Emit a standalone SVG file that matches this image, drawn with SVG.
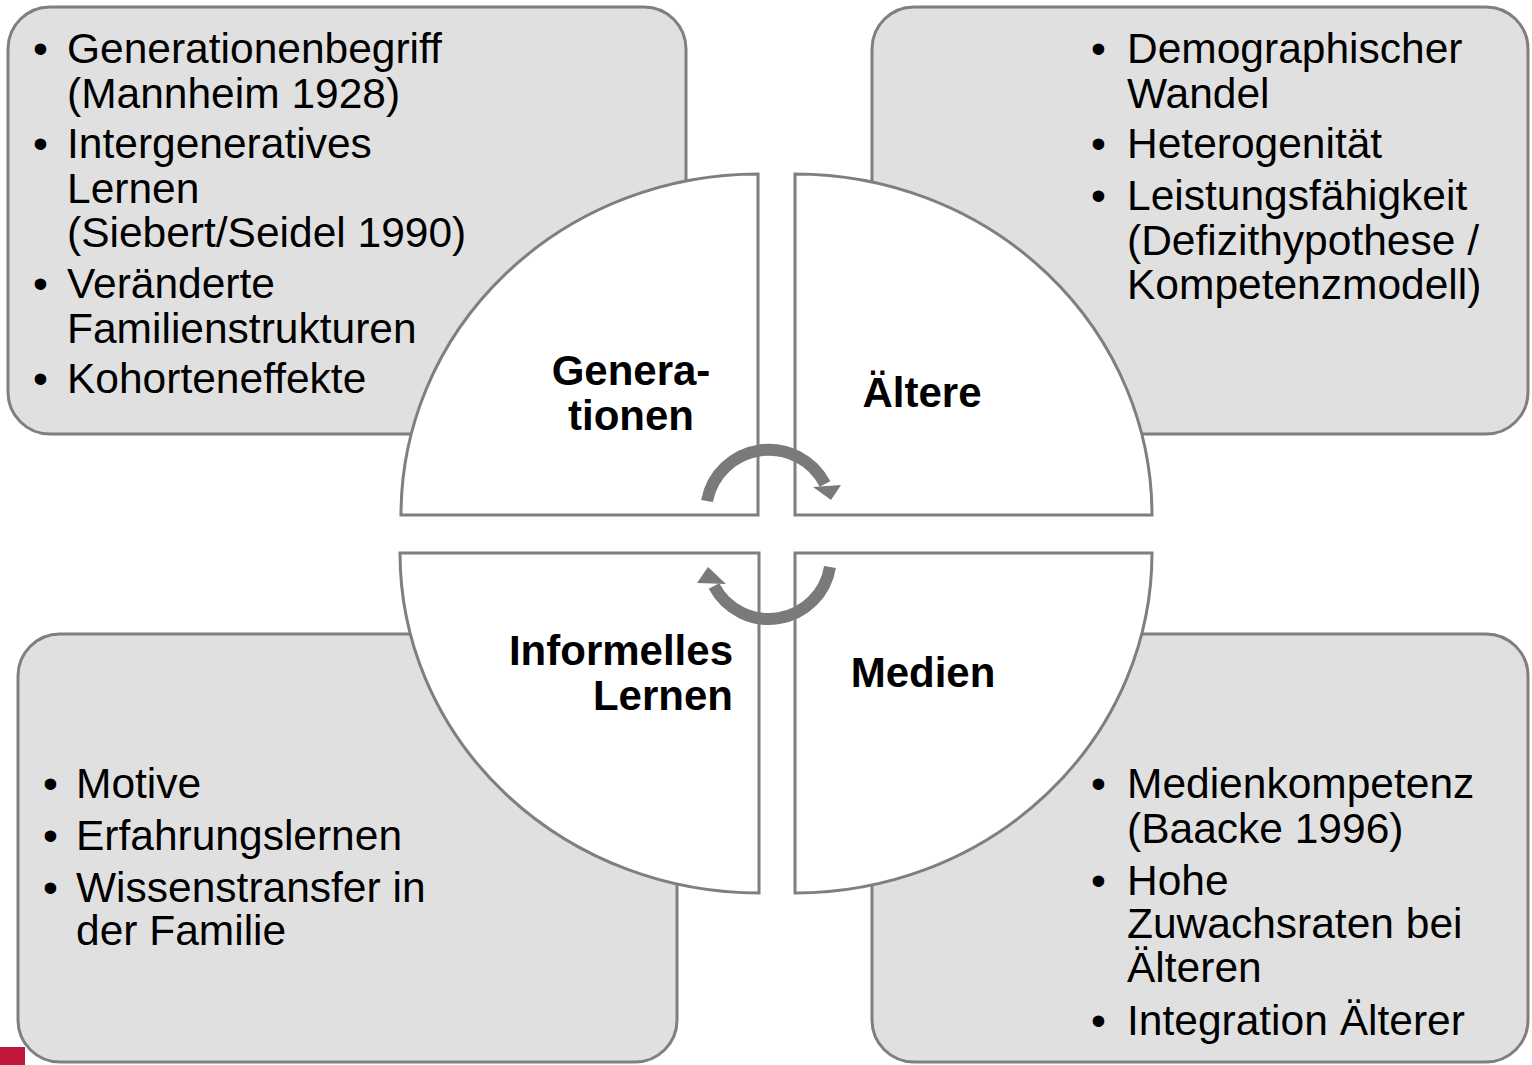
<svg xmlns="http://www.w3.org/2000/svg" width="1532" height="1065" viewBox="0 0 1532 1065">
<style>
.box{fill:#e0e0e0;stroke:#7f7f7f;stroke-width:3}
.q{fill:#ffffff;stroke:#7f7f7f;stroke-width:3;stroke-linejoin:miter}
.t{font-family:"Liberation Sans",Arial,sans-serif;font-size:42.5px;fill:#000}
.b{font-family:"Liberation Sans",Arial,sans-serif;font-size:42px;font-weight:bold;fill:#000}
.arc{fill:none;stroke:#7a7a7a;stroke-width:12}
.head{fill:#7a7a7a}
</style>
<rect width="1532" height="1065" fill="#ffffff"/>
<g id="box-tl"><rect class="box" x="8" y="7" width="678" height="427" rx="42"/>
<text class="t" x="33" y="63">•</text><text class="t" x="67" y="63">Generationenbegriff</text>
<text class="t" x="67" y="108">(Mannheim 1928)</text>
<text class="t" x="33" y="158">•</text><text class="t" x="67" y="158">Intergeneratives</text>
<text class="t" x="67" y="203">Lernen</text>
<text class="t" x="67" y="247">(Siebert/Seidel 1990)</text>
<text class="t" x="33" y="298">•</text><text class="t" x="67" y="298">Veränderte</text>
<text class="t" x="67" y="343">Familienstrukturen</text>
<text class="t" x="33" y="393">•</text><text class="t" x="67" y="393">Kohorteneffekte</text>
</g>
<g id="box-tr"><rect class="box" x="872" y="7" width="656" height="427" rx="42"/>
<text class="t" x="1091" y="63">•</text><text class="t" x="1127" y="63">Demographischer</text>
<text class="t" x="1127" y="108">Wandel</text>
<text class="t" x="1091" y="158">•</text><text class="t" x="1127" y="158">Heterogenität</text>
<text class="t" x="1091" y="210">•</text><text class="t" x="1127" y="210">Leistungsfähigkeit</text>
<text class="t" x="1127" y="255">(Defizithypothese /</text>
<text class="t" x="1127" y="299">Kompetenzmodell)</text>
</g>
<g id="box-bl"><rect class="box" x="18" y="634" width="659" height="428" rx="42"/>
<text class="t" x="43" y="798">•</text><text class="t" x="76" y="798">Motive</text>
<text class="t" x="43" y="850">•</text><text class="t" x="76" y="850">Erfahrungslernen</text>
<text class="t" x="43" y="902">•</text><text class="t" x="76" y="902">Wissenstransfer in</text>
<text class="t" x="76" y="945">der Familie</text>
</g>
<g id="box-br"><rect class="box" x="872" y="634" width="656" height="428" rx="42"/>
<text class="t" x="1091" y="798">•</text><text class="t" x="1127" y="798">Medienkompetenz</text>
<text class="t" x="1127" y="843">(Baacke 1996)</text>
<text class="t" x="1091" y="895">•</text><text class="t" x="1127" y="895">Hohe</text>
<text class="t" x="1127" y="938">Zuwachsraten bei</text>
<text class="t" x="1127" y="982">Älteren</text>
<text class="t" x="1091" y="1035">•</text><text class="t" x="1127" y="1035">Integration Älterer</text>
</g>
<g id="q-generationen"><path class="q" d="M758,515 L401,515 A357,341 0 0 1 758,174 Z"/>
<text class="b" x="631" y="385" text-anchor="middle">Genera-</text>
<text class="b" x="631" y="430" text-anchor="middle">tionen</text></g>
<g id="q-aeltere"><path class="q" d="M795,515 L795,174 A357,341 0 0 1 1152,515 Z"/>
<text class="b" x="922" y="407" text-anchor="middle">Ältere</text></g>
<g id="q-informelles"><path class="q" d="M759,553 L759,893 A359,340 0 0 1 400,553 Z"/>
<text class="b" x="733" y="665" text-anchor="end">Informelles</text>
<text class="b" x="733" y="710" text-anchor="end">Lernen</text></g>
<g id="q-medien"><path class="q" d="M795,553 L1152,553 A357,340 0 0 1 795,893 Z"/>
<text class="b" x="923" y="687" text-anchor="middle">Medien</text></g>
<g id="connectors">
<path class="arc" d="M707,501 A63,63 0 0 1 825,484"/>
<polygon class="head" points="813,487 841,485 831,500"/>
<path class="arc" d="M830,567 A62,62 0 0 1 714,586"/>
<polygon class="head" points="697,583 708,567 726,584"/>
</g>
<rect x="0" y="1047" width="25" height="18" fill="#c0183c"/>
</svg>
